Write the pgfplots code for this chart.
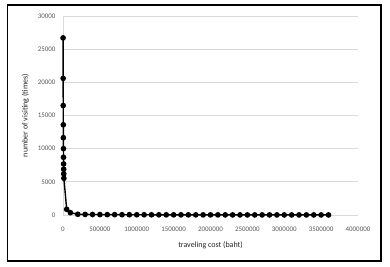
\documentclass[border=0pt]{standalone}
\usepackage{fontspec}
\setmainfont{Carlito}
\usepackage{pgfplots}
\pgfplotsset{compat=1.18}
\definecolor{gridgray}{HTML}{D9D9D9}
\definecolor{ticktext}{HTML}{595959}
\begin{document}
\begin{tikzpicture}[x=1bp,y=1bp]
\fill[white] (0,0) rectangle (390,267);
\useasboundingbox (0,0) rectangle (390,267);
\draw[line width=1.5bp,black] (7.5,6) rectangle (381,262);
\begin{axis}[
  at={(63bp,52bp)}, anchor=south west,
  scale only axis, width=295bp, height=199bp,
  xmin=0, xmax=4000000, ymin=0, ymax=30000,
  xtick={0,500000,...,4000000},
  ytick={0,5000,...,30000},
  scaled x ticks=false, scaled y ticks=false,
  /pgf/number format/assume math mode=true,
  xticklabel style={/pgf/number format/fixed,/pgf/number format/1000 sep={},font=\fontsize{7}{8}\selectfont,text=ticktext,yshift=-8bp},
  yticklabel style={/pgf/number format/fixed,/pgf/number format/1000 sep={},font=\fontsize{7}{8}\selectfont,text=ticktext,xshift=-4bp},
  major tick length=0pt,
  axis x line*=bottom, axis y line*=left,
  axis line style={gridgray,line width=0.75bp},
  ymajorgrids, grid style={gridgray,line width=0.75bp},
  xlabel={traveling cost (baht)}, ylabel={number of visiting (times)},
  xlabel style={font=\fontsize{8}{9}\selectfont,text=black!85, yshift=-4bp},
  ylabel style={font=\fontsize{8}{9}\selectfont,text=black!85, yshift=2bp},
  clip=false,
]
\addplot[black, line width=1.4bp, mark=*, mark size=2.1bp] coordinates {
(1000,26700) (2000,20600) (3000,16500) (4000,13600) (5000,11650) (6000,10000)
(7000,8700) (8000,7700) (9000,6900) (10000,6200) (12000,5530)
(50000,850) (100000,350)
(200000,110) (300000,90) (400000,75) (500000,65) (600000,55) (700000,50)
(800000,45) (900000,40) (1000000,36) (1100000,33) (1200000,30) (1300000,28)
(1400000,26) (1500000,24) (1600000,22) (1700000,21) (1800000,20) (1900000,19)
(2000000,18) (2100000,17) (2200000,16) (2300000,15) (2400000,15) (2500000,14)
(2600000,13) (2700000,13) (2800000,12) (2900000,12) (3000000,11) (3100000,11)
(3200000,10) (3300000,10) (3400000,10) (3500000,9) (3600000,9)
};
\end{axis}
\end{tikzpicture}
\end{document}
